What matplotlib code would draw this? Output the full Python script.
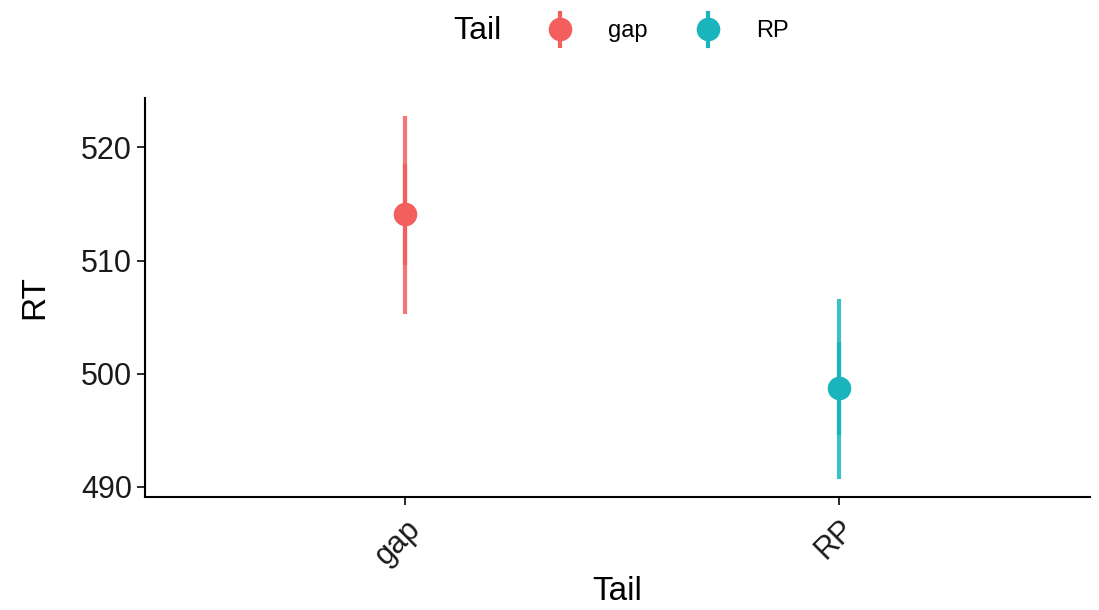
import matplotlib.pyplot as plt
from matplotlib.lines import Line2D
from matplotlib.legend_handler import HandlerBase
from matplotlib.offsetbox import HPacker

plt.rcParams['font.family'] = ['Liberation Sans', 'DejaVu Sans']

# data
tails = ['gap', 'RP']
rt_mean = [514.1, 498.7]
ci_low = [505.3, 490.7]      # outer interval
ci_high = [522.8, 506.6]
se_low = [509.6, 494.6]      # inner interval
se_high = [518.5, 502.8]
colors = ['#F25F5C', '#1AB4BC']

fig = plt.figure(figsize=(10.99, 6.10), dpi=100)
ax = fig.add_axes([0.132, 0.185, 0.86, 0.655])

x = list(range(len(tails)))
for i in x:
    ax.vlines(i, ci_low[i], ci_high[i], color=colors[i], linewidth=3, alpha=0.85)
    ax.vlines(i, se_low[i], se_high[i], color=colors[i], linewidth=3)
    ax.plot(i, rt_mean[i], 'o', color=colors[i], markersize=17, markeredgewidth=0)

ax.set_xlim(-0.6, 1.58)
ax.set_ylim(489.1, 524.4)
ax.set_xticks(x)
ax.set_xticklabels(tails, rotation=45, ha='right', rotation_mode='anchor', fontsize=22)
ax.set_yticks([490, 500, 510, 520])
ax.tick_params(axis='y', labelsize=22, length=6, width=1.3, colors='#1a1a1a')
ax.tick_params(axis='x', length=6, width=1.3, colors='#1a1a1a', pad=6)
for s in ['top', 'right']:
    ax.spines[s].set_visible(False)
for s in ['left', 'bottom']:
    ax.spines[s].set_linewidth(1.5)
ax.set_xlabel('Tail', fontsize=24, labelpad=4)
ax.set_ylabel('RT', fontsize=24, labelpad=22)


class VKey(HandlerBase):
    # point with a vertical line through it, like the ggplot key
    def create_artists(self, legend, orig, xd, yd, w, h, fontsize, trans):
        cx = w / 2 - xd
        l = Line2D([cx, cx], [-yd - 0.5 * h, h * 1.5 - yd], color=orig.get_color(),
                   linewidth=3, transform=trans)
        m = Line2D([cx], [h / 2 - yd], marker='o', color=orig.get_color(),
                   markersize=17, markeredgewidth=0, transform=trans)
        return [l, m]


handles = [Line2D([0], [0], color=c) for c in colors]
leg = fig.legend(handles, tails, handler_map={Line2D: VKey()}, title='Tail',
                 loc='upper center', bbox_to_anchor=(0.565, 1.008), ncol=2, frameon=False,
                 fontsize=17, title_fontsize=23, handlelength=1.2, handletextpad=1.4,
                 columnspacing=2.0)
# put the title on the same line as the entries
leg._legend_box._children = [HPacker(pad=0, sep=32, align='center',
                                     children=[leg._legend_title_box, leg._legend_handle_box])]

fig.savefig('out.png', dpi=100)
